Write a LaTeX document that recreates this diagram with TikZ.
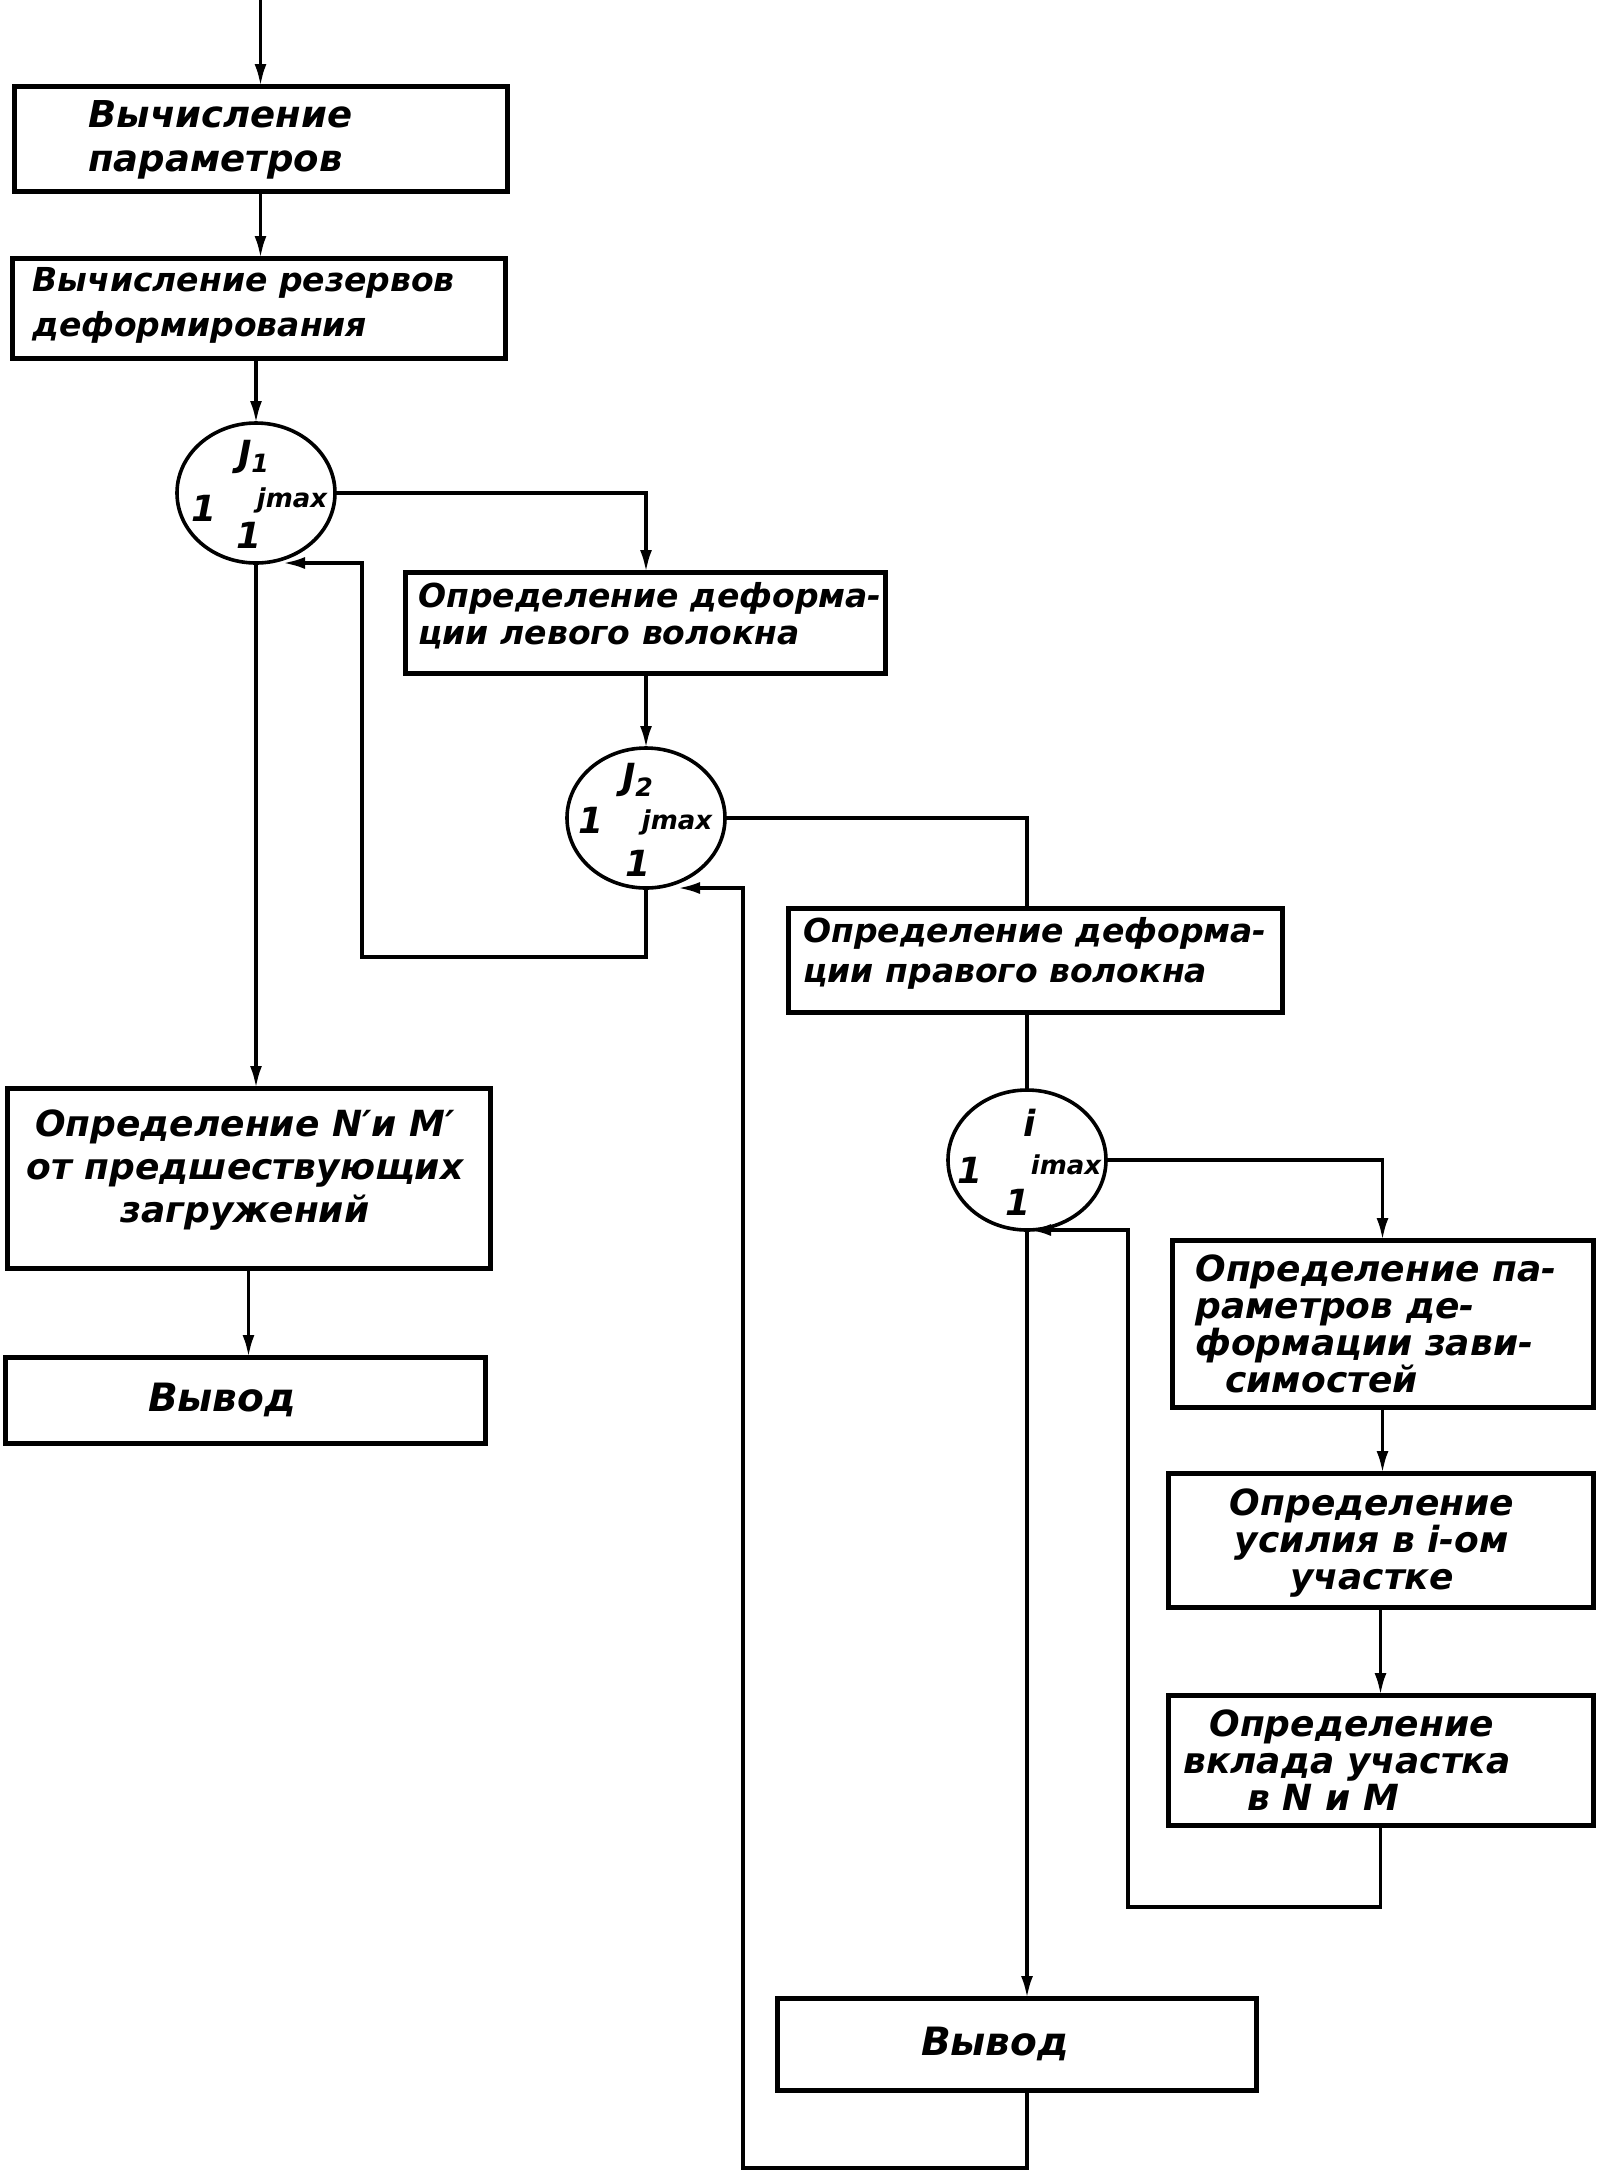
\documentclass[tikz,border=0pt]{standalone}
\usepackage{fontspec}
\setmainfont{DejaVu Sans}
\usetikzlibrary{arrows.meta,calc,shapes.geometric}
\begin{document}
\begin{tikzpicture}[x=0.5pt,y=-0.5pt,
  box/.style={draw, line width=2.5pt, inner sep=0pt, outer sep=0pt},
  circ/.style={ellipse, draw, line width=1.8pt, minimum width=79pt, minimum height=70pt, inner sep=0pt, outer sep=0pt},
  ln/.style={line width=1.7pt},
  arr/.style={-{Latex[length=11pt,width=6pt]}},
  txt/.style={inner sep=0pt, font=\bfseries\itshape\fontsize{16.5}{20}\selectfont, align=left},
  big/.style={inner sep=0pt, font=\bfseries\itshape\fontsize{18}{18}\selectfont},
  sml/.style={inner sep=0pt, font=\bfseries\itshape\fontsize{13}{13}\selectfont}]
\useasboundingbox (0,0) rectangle (1597,2176);

% boxes
\node[box, minimum width=246.5pt, minimum height=52.5pt] (b1) at (260.5,138.5) {};
\node[box, minimum width=246.5pt, minimum height=50pt] (b2) at (258.5,308) {};
\node[box, minimum width=240pt, minimum height=50.5pt] (b3) at (645,622.5) {};
\node[box, minimum width=247pt, minimum height=52pt] (b4) at (1035,960) {};
\node[box, minimum width=241.5pt, minimum height=90pt] (b5) at (248.5,1178) {};
\node[box, minimum width=240pt, minimum height=43pt] (b6) at (245,1400) {};
\node[box, minimum width=210.5pt, minimum height=83.5pt] (b7) at (1382.5,1323.5) {};
\node[box, minimum width=212.5pt, minimum height=67pt] (b8) at (1380.5,1540) {};
\node[box, minimum width=212.5pt, minimum height=65pt] (b9) at (1380.5,1760) {};
\node[box, minimum width=239.5pt, minimum height=46pt] (b10) at (1016.5,2044) {};

% box texts
\node[txt, font=\bfseries\itshape\fontsize{18.5}{22}\selectfont, anchor=west] (b1t) at (88,140) {Вычисление\\параметров};
\node[txt, font=\bfseries\itshape\fontsize{16.5}{22.5}\selectfont, anchor=west] (b2t) at (32,305) {Вычисление резервов\\деформирования};
\node[txt, font=\bfseries\itshape\fontsize{16.5}{18.5}\selectfont, anchor=west] (b3t) at (418,616) {Определение деформа-\\ции левого волокна};
\node[txt, font=\bfseries\itshape\fontsize{16.5}{20}\selectfont, anchor=west] (b4t) at (803,953) {Определение деформа-\\ции правого волокна};
\node[txt, font=\bfseries\itshape\fontsize{18}{21.5}\selectfont, align=center] (b5t) at (245,1170) {Определение N′и M′\\от предшествующих\\загружений};
\node[txt, font=\bfseries\itshape\fontsize{19.5}{20}\selectfont] (b6t) at (222,1400) {Вывод};
\node[txt, font=\bfseries\itshape\fontsize{18}{18.5}\selectfont, anchor=west] (b7t) at (1195,1324) {Определение па-\\раметров де-\\формации зави-\\\hspace*{15pt}симостей};
\node[txt, font=\bfseries\itshape\fontsize{18}{18.5}\selectfont, align=center] (b8t) at (1372,1543) {Определение\\усилия в i-ом\\участке};
\node[txt, font=\bfseries\itshape\fontsize{18}{18.5}\selectfont, anchor=west] (b9t) at (1183,1760) {\hspace*{13pt}Определение\\вклада участка\\\hspace*{32pt}в N и M};
\node[txt, font=\bfseries\itshape\fontsize{19.5}{20}\selectfont] (b10t) at (995,2044) {Вывод};

% loop circles
\node[circ] (c1) at (256,493) {};
\node[circ] (c2) at (646,818) {};
\node[circ] (c3) at (1027,1160) {};

\node[big] (c1j) at (254,457) {J\textsubscript{1}};
\node[big] (c1l) at (204,508) {1};
\node[sml] (c1m) at (292,500) {jmax};
\node[big] (c1b) at (249,535) {1};

\node[big] (c2j) at (638,780) {J\textsubscript{2}};
\node[big] (c2l) at (591,820) {1};
\node[sml] (c2m) at (677,822) {jmax};
\node[big] (c2b) at (638,863) {1};

\node[big] (c3j) at (1030,1123) {i};
\node[big] (c3l) at (970,1170) {1};
\node[sml] (c3m) at (1066,1165) {imax};
\node[big] (c3b) at (1018,1202) {1};

% free ends
\coordinate (top) at (260.5,0);
\coordinate (l1) at (362,957);
\coordinate (l2) at (743,2168);
\coordinate (l3) at (1128,1907);

% connectors
\draw[ln,arr] (top) -- (b1.north);
\draw[ln,arr] (b1.south) -- (b1.south |- b2.north);
\draw[ln,arr] (c1.north |- b2.south) -- (c1.north);
\draw[ln,arr] (c1.east) -| (c2.north |- b3.north);
\draw[ln,arr] (c2.north |- b3.south) -- (c2.north);
\draw[ln] (c2.east) -| (c3.north |- b4.north);
\draw[ln] (c3.north |- b4.south) -- (c3.north);
\draw[ln,arr] (c3.east) -| (b7.north);
\draw[ln,arr] (b7.south) -- (b7.south |- b8.north);
\draw[ln,arr] (b8.south) -- (b8.south |- b9.north);
\draw[ln,arr,shorten >=1pt] (b9.south) -- (b9.south |- l3) -- (l3) |- (c3.south);
\draw[ln,arr] (c3.south) -- (c3.south |- b10.north);
\draw[ln,arr,shorten >=16pt] (c3.south |- b10.south) -- (c3.south |- l2) -- (l2) |- (c2.south);
\draw[ln,arr,shorten >=13.5pt] (c2.south) -- (c2.south |- l1) -- (l1) |- (c1.south);
\draw[ln,arr] (c1.south) -- (c1.south |- b5.north);
\draw[ln,arr] (b5.south) -- (b5.south |- b6.north);
\end{tikzpicture}
\end{document}
